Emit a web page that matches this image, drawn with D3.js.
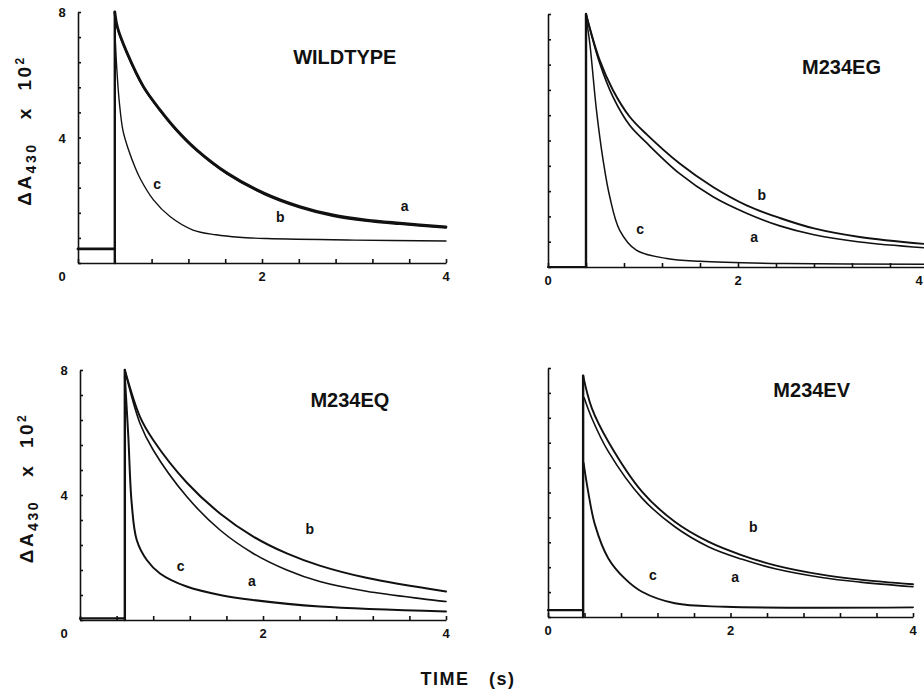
<!DOCTYPE html>
<html>
<head>
<meta charset="utf-8">
<script src="https://cdn.jsdelivr.net/npm/d3@7"></script>
<style>
  body { margin: 0; background: #fff; }
  svg text { font-family: "Liberation Sans", Arial, sans-serif; font-weight: bold; fill: #111; }
  .trace { fill: none; stroke: #111; stroke-linejoin: round; stroke-linecap: round; }
  .axis path, .axis line { stroke: #111; stroke-width: 1.6; }
</style>
</head>
<body>
<div id="chart"></div>
<script>
// ---- data: [time (s), dA430 x 10^2] ----
const panelNames = ["WILDTYPE", "M234EG", "M234EQ", "M234EV"];
const xTickLabels = [0, 2, 4];
const yTickLabels = [8, 4];

// flash time, pre-flash baseline and flash height per panel
const flashTimes = [0.40, 0.40, 0.49, 0.385];
const preBaselines = [0.45, 0.0, 0.05, 0.22];
const flashPeaks = [8.0, 8.0, 8.0, 7.75];

const wtA = [[0.40,8.0],[0.43,7.5],[0.53,6.72],[0.71,5.63],[0.89,4.89],[1.07,4.25],[1.29,3.61],[1.62,2.87],[2.02,2.23],[2.41,1.80],[2.77,1.53],[3.14,1.37],[3.50,1.27],[4.00,1.15]];
const wtB = [[0.40,7.96],[0.43,7.46],[0.53,6.68],[0.71,5.59],[0.89,4.85],[1.07,4.21],[1.29,3.57],[1.62,2.83],[2.02,2.19],[2.41,1.76],[2.77,1.49],[3.14,1.33],[3.50,1.23],[4.00,1.11]];
const wtC = [[0.40,7.5],[0.42,6.27],[0.45,5.1],[0.49,4.2],[0.55,3.6],[0.62,3.05],[0.674,2.7],[0.82,2.01],[1.00,1.48],[1.25,1.05],[1.50,0.90],[1.75,0.82],[2.05,0.78],[3.00,0.73],[4.00,0.70]];

const egA = [[0.40,8.0],[0.544,6.45],[0.684,5.38],[0.86,4.48],[1.036,3.93],[1.386,2.95],[1.737,2.22],[2.09,1.70],[2.44,1.30],[2.80,1.02],[3.28,0.79],[4.00,0.60]];
const egB = [[0.40,8.0],[0.544,6.54],[0.684,5.59],[0.86,4.75],[1.036,4.2],[1.386,3.27],[1.737,2.53],[2.09,1.95],[2.44,1.55],[2.80,1.22],[3.28,0.95],[4.00,0.72]];
const egC = [[0.40,7.9],[0.44,7.07],[0.51,4.96],[0.58,3.38],[0.65,2.22],[0.755,1.16],[0.93,0.53],[1.25,0.27],[1.60,0.18],[2.50,0.11],[4.00,0.09]];

const eqA = [[0.49,8.0],[0.656,6.29],[0.80,5.44],[1.166,3.95],[1.53,2.88],[1.894,2.13],[2.26,1.60],[2.62,1.23],[3.13,0.92],[4.00,0.59]];
const eqB = [[0.49,8.0],[0.656,6.5],[0.80,5.76],[1.166,4.4],[1.53,3.41],[1.894,2.67],[2.26,2.13],[2.62,1.74],[3.13,1.35],[4.00,0.91]];
const eqC = [[0.49,7.8],[0.528,5.87],[0.565,3.73],[0.62,2.56],[0.73,1.92],[0.874,1.49],[1.166,1.07],[1.53,0.80],[1.89,0.64],[2.62,0.43],[4.00,0.27]];

const evA = [[0.395,7.05],[0.48,6.39],[0.66,5.32],[1.03,3.82],[1.39,2.90],[1.757,2.26],[2.12,1.86],[2.49,1.55],[3.00,1.27],[3.42,1.12],[4.00,0.97]];
const evB = [[0.385,7.75],[0.48,6.71],[0.66,5.64],[1.03,4.03],[1.39,3.06],[1.757,2.42],[2.12,1.99],[2.49,1.66],[3.00,1.36],[3.42,1.20],[4.00,1.05]];
const evC = [[0.39,4.95],[0.44,4.03],[0.515,2.96],[0.66,1.89],[0.84,1.24],[1.03,0.81],[1.39,0.44],[1.94,0.33],[4.00,0.31]];

const traceSets = [
    {a: wtA, b: wtB, c: wtC},
    {a: egA, b: egB, c: egC},
    {a: eqA, b: eqB, c: eqC},
    {a: evA, b: evB, c: evC}
];

// ---- layout ----
const width = 924, height = 689;

const panels = [
    {x: [78, 446], y: [263, 12], yLabels: true, widths: {a: 2.8, b: 1.4, c: 1.4},
     title: [2.9, 6.55], letters: {a: [3.55, 1.82], b: [2.2, 1.47], c: [0.86, 2.52]}},
    {x: [548, 928], y: [267, 14], yLabels: false, widths: {a: 1.7, b: 1.9, c: 1.5},
     title: [3.09, 6.33], letters: {a: [2.17, 0.94], b: [2.25, 2.27], c: [0.97, 1.19]}},
    {x: [80, 446], y: [620, 370], yLabels: true, widths: {a: 1.6, b: 2.0, c: 2.0},
     title: [2.95, 7.04], letters: {a: [1.88, 1.25], b: [2.51, 2.91], c: [1.10, 1.73]}},
    {x: [548, 913], y: [617, 368], yLabels: false, widths: {a: 1.6, b: 1.9, c: 1.9},
     title: [2.89, 7.3], letters: {a: [2.05, 1.29], b: [2.25, 2.89], c: [1.15, 1.35]}}
];

const svg = d3.select("#chart").append("svg")
    .attr("width", width)
    .attr("height", height);

panels.forEach((p, i) => {
    let xScale = d3.scaleLinear().domain([0, 4]).range(p.x);
    let yScale = d3.scaleLinear().domain([0, 8]).range(p.y);
    let g = svg.append("g");

    // axes with small inward ticks
    let xAxis = d3.axisBottom(xScale)
        .tickValues(d3.range(0, 4.01, 0.4))
        .tickSize(-4).tickSizeOuter(0).tickFormat("");
    let yAxis = d3.axisLeft(yScale)
        .tickValues(d3.range(0, 8.01, 0.8))
        .tickSize(-3).tickSizeOuter(0).tickFormat("");

    g.append("g").attr("class", "axis")
        .attr("transform", `translate(0, ${yScale(0)})`)
        .call(xAxis);
    g.append("g").attr("class", "axis")
        .attr("transform", `translate(${xScale(0)}, 0)`)
        .call(yAxis);

    // tick numbers (the right panels' last label is pulled inside the page)
    xTickLabels.forEach(v => {
        if (v === 0 && p.yLabels) return;
        g.append("text")
            .attr("x", Math.min(xScale(v), width - 5))
            .attr("y", yScale(0) + 18)
            .attr("text-anchor", "middle")
            .attr("font-size", 13)
            .text(v);
    });
    if (p.yLabels) {
        yTickLabels.forEach(v => {
            g.append("text")
                .attr("x", xScale(0) - 16)
                .attr("y", yScale(v) + 5)
                .attr("text-anchor", "middle")
                .attr("font-size", 13)
                .text(v);
        });
        g.append("text")
            .attr("x", xScale(0) - 16)
            .attr("y", yScale(0) + 18)
            .attr("text-anchor", "middle")
            .attr("font-size", 13)
            .text(0);
    }

    // pre-flash baseline + flash
    let line = d3.line().x(d => xScale(d[0])).y(d => yScale(d[1]));
    let tf = flashTimes[i];
    g.append("path").attr("class", "trace")
        .attr("stroke-width", i === 0 ? 2.8 : 2.2)
        .attr("d", line([[0, preBaselines[i]], [tf, preBaselines[i]]]));
    g.append("path").attr("class", "trace")
        .attr("stroke-width", 2.4)
        .attr("d", line([[tf, 0], [tf, flashPeaks[i]]]));

    // decay traces
    let curve = d3.line()
        .x(d => xScale(d[0]))
        .y(d => yScale(d[1]))
        .curve(d3.curveCatmullRom.alpha(0.5));
    ["c", "a", "b"].forEach(k => {
        g.append("path").attr("class", "trace")
            .attr("stroke-width", p.widths[k])
            .attr("d", curve(traceSets[i][k]));
    });

    // letters and title
    Object.keys(p.letters).forEach(k => {
        g.append("text")
            .attr("x", xScale(p.letters[k][0]))
            .attr("y", yScale(p.letters[k][1]) + 5)
            .attr("text-anchor", "middle")
            .attr("font-size", 14)
            .text(k);
    });
    g.append("text")
        .attr("x", xScale(p.title[0]))
        .attr("y", yScale(p.title[1]) + 7)
        .attr("text-anchor", "middle")
        .attr("font-size", 20)
        .text(panelNames[i]);

    // y axis title for the left column
    if (p.yLabels) {
        let cy = (p.y[0] + p.y[1]) / 2 - 7;
        let t = g.append("text")
            .attr("transform", `translate(${xScale(0) - 47}, ${cy}) rotate(-90)`)
            .attr("text-anchor", "middle")
            .attr("font-size", 19)
            .attr("letter-spacing", 2.5);
        t.append("tspan").text("\u0394A");
        t.append("tspan").attr("font-size", 14).attr("dy", 5).text("430");
        t.append("tspan").attr("dy", -5).text("\u00a0\u00a0\u00a0x\u00a0\u00a010");
        t.append("tspan").attr("font-size", 12).attr("dy", -7).text("2");
    }
});

svg.append("text")
    .attr("x", 468)
    .attr("y", 685)
    .attr("text-anchor", "middle")
    .attr("font-size", 18)
    .attr("letter-spacing", 1.5)
    .text("TIME\u00a0\u00a0\u00a0(s)");
</script>
</body>
</html>
